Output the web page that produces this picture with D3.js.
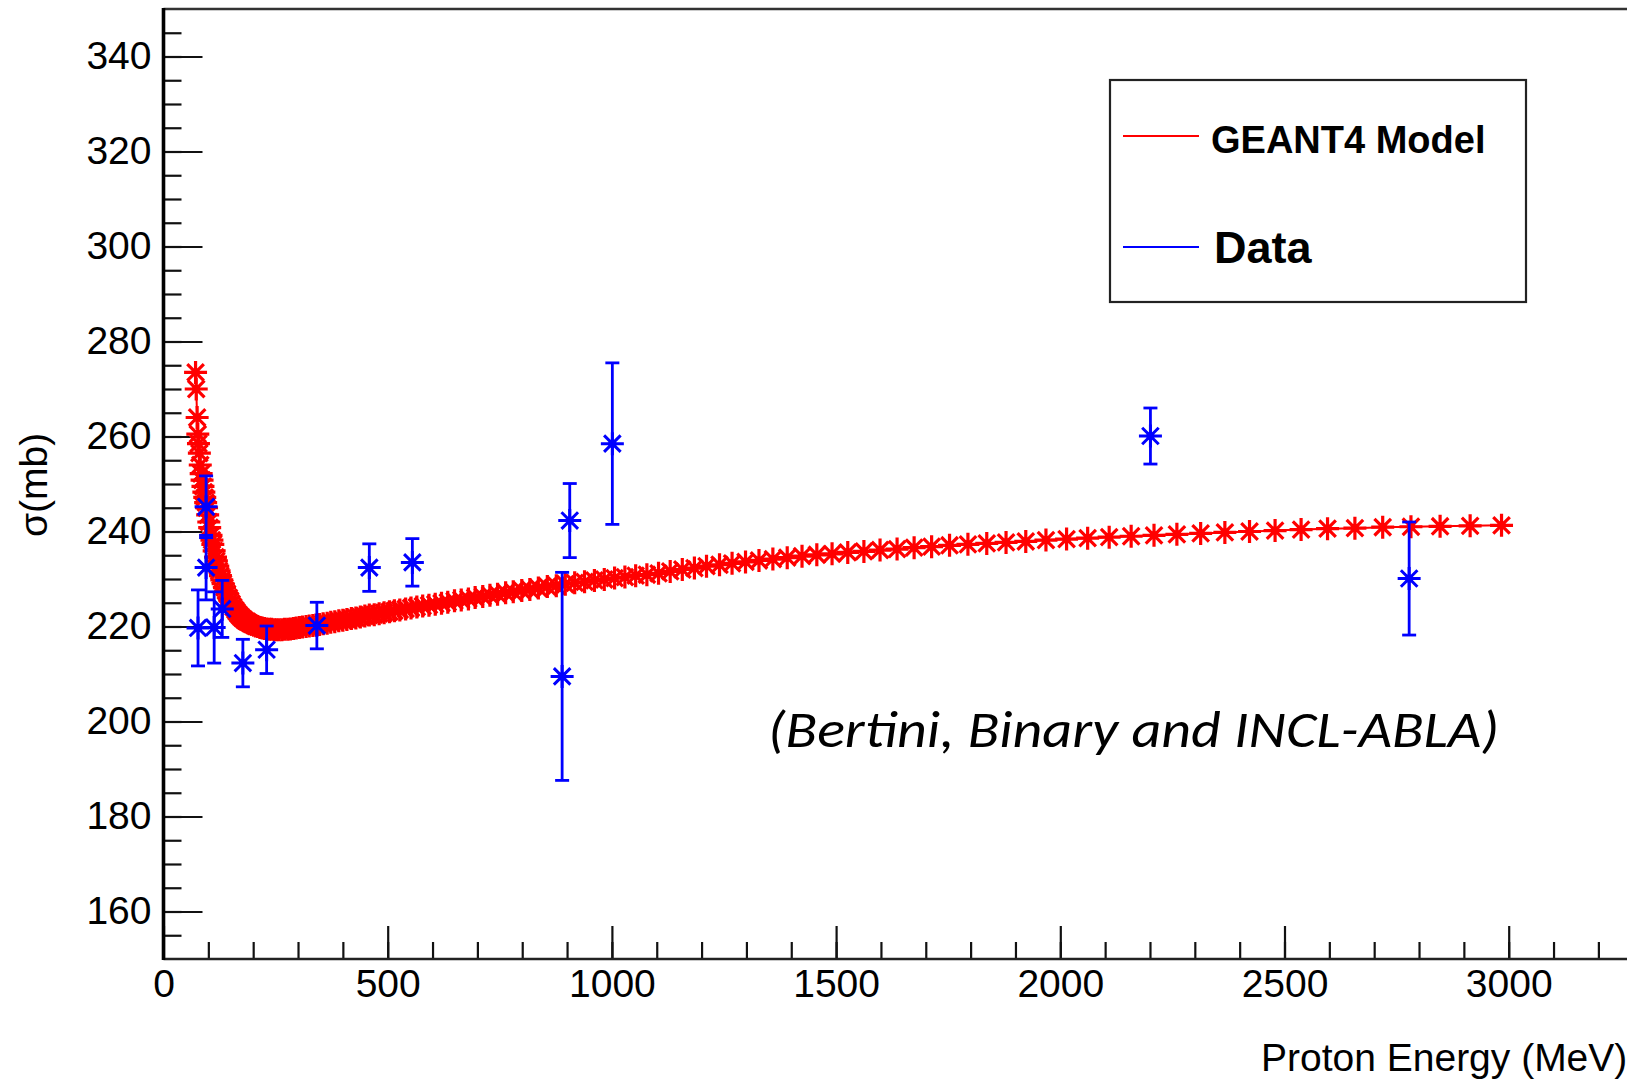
<!doctype html>
<html>
  <head>
    <script src="https://cdnjs.cloudflare.com/ajax/libs/d3/7.8.5/d3.min.js"></script>
    <style>
      body { margin: 0; background: #fff; }
      svg { display: block; }
      text { font-family: "Liberation Sans", Arial, sans-serif; fill: #000; }
      .tick text { font-size: 39px; }
      .axis path.domain { display: none; }
      .axis .tick line { stroke: #111; stroke-width: 2.2; }
      path.model-line { fill: none; stroke: #ff0000; stroke-width: 2; }
      path.model-mark { fill: none; stroke: #ff0000; stroke-width: 3.2; }
      circle.model-dot { fill: #ff0000; }
      path.data-mark { fill: none; stroke: #0000ff; stroke-width: 3; }
      circle.data-dot { fill: #0000ff; }
      line.err { stroke: #0000ff; stroke-width: 2.8; }
    </style>
  </head>
  <body>
    <svg width="1627" height="1083"></svg>
    <script>
      // GEANT4 model curve, proton energy (MeV) and cross section (mb)
      var modelE = [71.5,73,75,76.5,78,80,82,84,86,88,90,92,94,96,98.5,101,103,106,108,110,
        113,116,118,121,124,127,130,133,136,139,142,146,149,152,156,160,163,167,171,175,
        179,183,187,192,196,201,205,210,215,220,225,230,236,241,247,252,258,264,270,277,
        283,290,296,303,310,318,325,333,340,348,356,365,373,382,391,400,409,419,429,439,
        449,459,470,481,492,504,515,527,540,552,565,578,592,606,620,634,649,664,680,695,
        712,728,745,763,780,799,817,836,856,876,896,917,939,961,983,1006,1029,1053,
        1078,1104,1130,1157,1184,1211,1240,1268,1298,1328,1359,1391,1424,1457,1491,1526,
        1562,1598,1636,1674,1713,1753,1794,1836,1879,1923,1968,2014,2061,2109,2158,2209,
        2260,2313,2367,2422,2479,2537,2596,2657,2719,2782,2847,2914,2984];
      var modelSigma = [273.5,270.0,264.0,260.5,258.5,256.5,254.0,252.2,250.8,249.5,248.3,247.2,246.1,245.0,243.5,242.0,240.8,239.2,238.2,237.3,
        235.9,234.6,233.8,232.7,231.7,230.7,229.8,229.0,228.2,227.5,226.9,226.0,225.4,224.8,224.1,223.5,223.1,222.6,222.2,221.8,
        221.5,221.2,221.0,220.7,220.5,220.3,220.1,220.0,219.8,219.7,219.6,219.5,219.4,219.4,219.3,219.3,219.3,219.3,219.4,219.4,
        219.5,219.6,219.7,219.8,219.9,220.0,220.1,220.2,220.3,220.4,220.6,220.7,220.9,221.0,221.2,221.3,221.5,221.7,221.8,222.0,
        222.2,222.4,222.5,222.7,222.9,223.1,223.3,223.5,223.7,223.9,224.1,224.3,224.5,224.7,224.9,225.1,225.4,225.6,225.8,226.1,
        226.3,226.6,226.8,227.1,227.3,227.6,227.8,228.1,228.4,228.6,228.9,229.2,229.4,229.7,229.9,230.2,230.4,230.7,
        230.9,231.2,231.6,232.0,232.3,232.7,233.0,233.3,233.6,233.9,234.2,234.5,234.8,235.1,235.3,235.6,
        235.8,236.1,236.3,236.6,236.8,237.1,237.3,237.5,237.7,237.9,238.2,238.4,238.6,238.8,239.0,239.2,
        239.4,239.6,239.8,240.0,240.2,240.4,240.6,240.7,240.9,241.0,241.1,241.2,241.3];

      // measured data with errors
      var dataE     = [77, 95, 95, 113, 131, 177, 230, 342, 459, 555, 889, 906, 1001, 2201, 2778];
      var dataSigma = [219.7, 245.2, 232.4, 219.8, 223.7, 212.3, 215.1, 220.2, 232.4, 233.5, 209.5, 242.3, 258.5, 260.1, 230.1];
      var dataErr   = [8.0, 6.5, 6.8, 7.5, 6.0, 5.0, 5.0, 4.9, 5.0, 5.0, 21.9, 7.8, 17.0, 5.9, 11.9];

      var xMajorTicks = [0, 500, 1000, 1500, 2000, 2500, 3000];
      var yMajorTicks = [160, 180, 200, 220, 240, 260, 280, 300, 320, 340];

      var svg = d3.select("svg");

      var x = d3.scaleLinear().domain([0, 3500]).range([163.5, 163.5 + 3500 * 0.4484]);
      var y = d3.scaleLinear().domain([150, 350]).range([959, 9]);

      // minor ticks
      svg.append("g")
        .attr("class", "axis")
        .attr("transform", "translate(0," + y(150) + ")")
        .call(d3.axisBottom(x).tickValues(d3.range(100, 3500, 100)).tickSizeInner(-17).tickSizeOuter(0).tickFormat(""));
      svg.append("g")
        .attr("class", "axis")
        .attr("transform", "translate(" + x(0) + ",0)")
        .call(d3.axisLeft(y).tickValues(d3.range(155, 350, 5)).tickSizeInner(-18).tickSizeOuter(0).tickFormat(""));

      // major ticks with labels
      svg.append("g")
        .attr("class", "axis")
        .attr("transform", "translate(0," + y(150) + ")")
        .call(d3.axisBottom(x).tickValues(xMajorTicks).tickSizeInner(-33).tickSizeOuter(0).tickPadding(10).tickFormat(d3.format("d")));
      svg.append("g")
        .attr("class", "axis")
        .attr("transform", "translate(" + x(0) + ",0)")
        .call(d3.axisLeft(y).tickValues(yMajorTicks).tickSizeInner(-39).tickSizeOuter(0).tickPadding(12).tickFormat(d3.format("d")));

      // frame
      svg.append("line")
        .attr("x1", x(0)).attr("x2", x(3500)).attr("y1", y(350)).attr("y2", y(350))
        .style("stroke", "#333").style("stroke-width", 2.5);
      svg.append("line")
        .attr("x1", x(0)).attr("x2", x(3500)).attr("y1", y(150)).attr("y2", y(150))
        .style("stroke", "#222").style("stroke-width", 2.6);
      svg.append("line")
        .attr("x1", x(0)).attr("x2", x(0)).attr("y1", y(350) - 1).attr("y2", y(150) + 1)
        .style("stroke", "#000").style("stroke-width", 3.6);

      // asterisk marker
      function star(r) {
        var d = r * 0.72;
        return "M" + (-r) + ",0L" + r + ",0M0," + (-r) + "L0," + r +
          "M" + (-d) + "," + (-d) + "L" + d + "," + d + "M" + (-d) + "," + d + "L" + d + "," + (-d);
      }

      var model = modelE.map(function(e, i) { return [e, modelSigma[i]]; });

      svg.append("path")
        .datum(model)
        .attr("class", "model-line")
        .attr("d", d3.line().x(d => x(d[0])).y(d => y(d[1])));

      var mg = svg.append("g").selectAll("g").data(model).enter().append("g")
        .attr("transform", d => "translate(" + x(d[0]) + "," + y(d[1]) + ")");
      mg.append("path").attr("class", "model-mark").attr("d", star(11.5));
      mg.append("circle").attr("class", "model-dot").attr("r", 4);

      // data with error bars
      var data = dataE.map(function(e, i) { return { e: e, s: dataSigma[i], err: dataErr[i] }; });
      var dg = svg.append("g").selectAll("g").data(data).enter().append("g");
      dg.append("line").attr("class", "err")
        .attr("x1", d => x(d.e)).attr("x2", d => x(d.e))
        .attr("y1", d => y(d.s + d.err)).attr("y2", d => y(d.s - d.err));
      dg.append("line").attr("class", "err")
        .attr("x1", d => x(d.e) - 7).attr("x2", d => x(d.e) + 7)
        .attr("y1", d => y(d.s + d.err)).attr("y2", d => y(d.s + d.err));
      dg.append("line").attr("class", "err")
        .attr("x1", d => x(d.e) - 7).attr("x2", d => x(d.e) + 7)
        .attr("y1", d => y(d.s - d.err)).attr("y2", d => y(d.s - d.err));
      dg.append("path").attr("class", "data-mark")
        .attr("transform", d => "translate(" + x(d.e) + "," + y(d.s) + ")")
        .attr("d", star(11.5));
      dg.append("circle").attr("class", "data-dot")
        .attr("cx", d => x(d.e)).attr("cy", d => y(d.s)).attr("r", 4);

      // axis titles
      svg.append("text")
        .attr("x", 1261).attr("y", 1071)
        .style("font-size", "39px")
        .text("Proton Energy (MeV)");
      svg.append("text")
        .attr("transform", "translate(47,485) rotate(-90)")
        .attr("text-anchor", "middle")
        .style("font-size", "39px")
        .text("σ(mb)");

      // legend
      var lg = svg.append("g");
      lg.append("rect")
        .attr("x", 1110).attr("y", 80).attr("width", 416).attr("height", 222)
        .style("fill", "#fff").style("stroke", "#222").style("stroke-width", 2.2);
      lg.append("line")
        .attr("x1", 1123).attr("x2", 1199).attr("y1", 136).attr("y2", 136)
        .style("stroke", "#ff0000").style("stroke-width", 2);
      lg.append("text")
        .attr("x", 1211).attr("y", 153)
        .style("font-size", "38px").style("font-weight", "bold")
        .text("GEANT4 Model");
      lg.append("line")
        .attr("x1", 1123).attr("x2", 1199).attr("y1", 247).attr("y2", 247)
        .style("stroke", "#0000ff").style("stroke-width", 2);
      lg.append("text")
        .attr("x", 1214).attr("y", 263)
        .style("font-size", "45px").style("font-weight", "bold")
        .text("Data");

      // annotation
      svg.append("text")
        .attr("x", 768).attr("y", 747)
        .attr("textLength", 731).attr("lengthAdjust", "spacingAndGlyphs")
        .style("font-family", "Carlito, 'Open Sans', sans-serif")
        .style("font-style", "italic")
        .style("font-size", "52px")
        .text("(Bertini, Binary and INCL-ABLA)");
    </script>
  </body>
</html>
